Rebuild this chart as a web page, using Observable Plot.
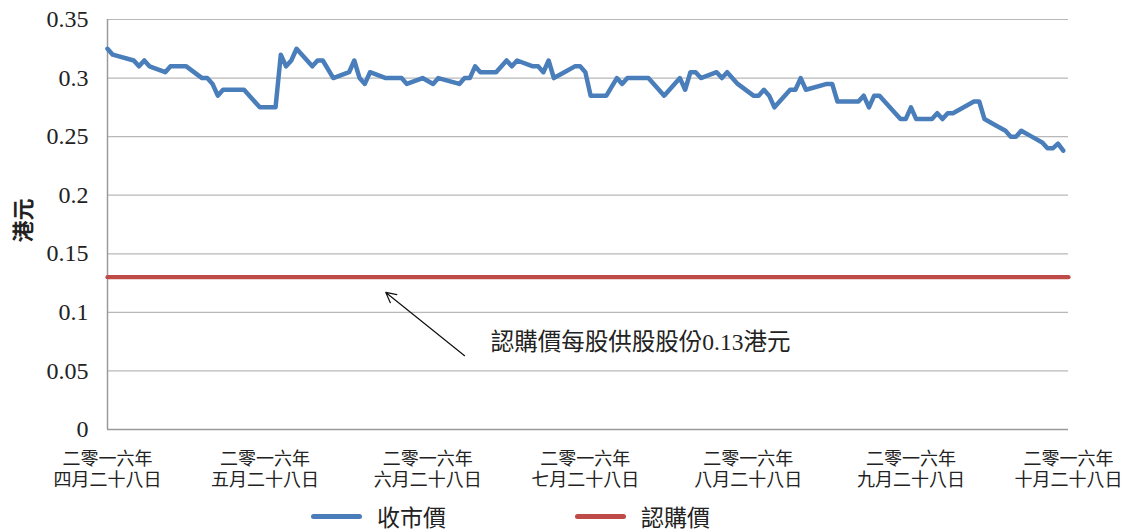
<!DOCTYPE html>
<html>
<head>
<meta charset="utf-8">
<script src="https://cdn.jsdelivr.net/npm/d3@7"></script>
<script src="https://cdn.jsdelivr.net/npm/@observablehq/plot@0.6"></script>
<style>
  html, body { margin: 0; padding: 0; background: #fff; }
  #chart { width: 1126px; }
  #legend { position: relative; width: 1126px; height: 32px; font-family: 'Liberation Serif', 'Noto Sans CJK TC', serif; font-size: 23px; color: #222; }
  .item { position: absolute; top: 0; height: 32px; display: flex; align-items: center; }
  .swatch { width: 51px; height: 5px; border-radius: 3px; margin-right: 15px; }
</style>
</head>
<body>
<div id="chart"></div>
<div id="legend"></div>
<script>
// ---- data ----
const dates = [
  "2016-04-28","2016-04-29","2016-05-03","2016-05-04","2016-05-05","2016-05-06","2016-05-09","2016-05-10","2016-05-13","2016-05-16",
  "2016-05-17","2016-05-18","2016-05-19","2016-05-20","2016-05-24","2016-05-27","2016-05-30","2016-05-31","2016-06-01","2016-06-02",
  "2016-06-03","2016-06-06","2016-06-07","2016-06-08","2016-06-10","2016-06-13","2016-06-14","2016-06-15","2016-06-16","2016-06-17",
  "2016-06-20","2016-06-23","2016-06-24","2016-06-27","2016-06-29","2016-06-30","2016-07-04","2016-07-05","2016-07-06","2016-07-07",
  "2016-07-08","2016-07-11","2016-07-13","2016-07-14","2016-07-15","2016-07-18","2016-07-19","2016-07-20","2016-07-21","2016-07-22",
  "2016-07-24","2016-07-26","2016-07-27","2016-07-28","2016-07-29","2016-08-01","2016-08-03","2016-08-04","2016-08-05","2016-08-09",
  "2016-08-11","2016-08-12","2016-08-15","2016-08-16","2016-08-17","2016-08-18","2016-08-19","2016-08-22","2016-08-23","2016-08-24",
  "2016-08-26","2016-08-29","2016-08-30","2016-08-31","2016-09-01","2016-09-02","2016-09-05","2016-09-06","2016-09-07","2016-09-08",
  "2016-09-12","2016-09-13","2016-09-14","2016-09-18","2016-09-19","2016-09-20","2016-09-21","2016-09-22","2016-09-26","2016-09-27",
  "2016-09-28","2016-09-29","2016-10-02","2016-10-03","2016-10-04","2016-10-05","2016-10-06","2016-10-10","2016-10-11","2016-10-12",
  "2016-10-14","2016-10-16","2016-10-17","2016-10-18","2016-10-19","2016-10-21","2016-10-23","2016-10-24","2016-10-25","2016-10-26",
  "2016-10-27"
];
const closePrices = [
  0.325,0.32,0.315,0.31,0.315,0.31,0.305,0.31,0.31,0.30,
  0.30,0.295,0.285,0.29,0.29,0.275,0.275,0.32,0.31,0.315,
  0.325,0.31,0.315,0.315,0.30,0.305,0.315,0.30,0.295,0.305,
  0.30,0.30,0.295,0.30,0.295,0.30,0.295,0.30,0.30,0.31,
  0.305,0.305,0.315,0.31,0.315,0.31,0.31,0.305,0.315,0.30,
  0.305,0.31,0.31,0.305,0.285,0.285,0.30,0.295,0.30,0.30,
  0.29,0.285,0.30,0.29,0.305,0.305,0.30,0.305,0.30,0.305,
  0.295,0.285,0.285,0.29,0.285,0.275,0.29,0.29,0.30,0.29,
  0.295,0.295,0.28,0.28,0.285,0.275,0.285,0.285,0.265,0.265,
  0.275,0.265,0.265,0.27,0.265,0.27,0.27,0.28,0.28,0.265,
  0.26,0.255,0.25,0.25,0.255,0.25,0.245,0.24,0.24,0.244,
  0.238
];
const subscriptionPrice = 0.13;
const xDomain = ["2016-04-28", "2016-10-28"];
const xTickDates = ["2016-04-28","2016-05-28","2016-06-28","2016-07-28","2016-08-28","2016-09-28","2016-10-28"];
const xTickLabels = [
  "二零一六年\n四月二十八日","二零一六年\n五月二十八日","二零一六年\n六月二十八日","二零一六年\n七月二十八日",
  "二零一六年\n八月二十八日","二零一六年\n九月二十八日","二零一六年\n十月二十八日"
];
const yTicks = [0, 0.05, 0.1, 0.15, 0.2, 0.25, 0.3, 0.35];
const yLabel = "港元";
const seriesNames = ["收市價", "認購價"];
const seriesColors = ["#4a7ebb", "#be4b48"];
const noteText = "認購價每股供股股份0.13港元";
const noteAnchor = { date: "2016-07-10", value: 0.074 };
const arrowTail = { date: "2016-07-05", value: 0.063 };
const arrowHead = { date: "2016-06-20", value: 0.117 };

// ---- build ----
const parse = d3.utcParse("%Y-%m-%d");
const closeData = dates.map((d, i) => ({ date: parse(d), value: closePrices[i] }));
const tickDates = xTickDates.map(parse);
const domain = xDomain.map(parse);
const refData = domain.map(d => ({ date: d, value: subscriptionPrice }));
const serifCJK = "'Liberation Serif', 'Noto Sans CJK TC', serif";

const W = 1126, H = 500;
const chart = Plot.plot({
  width: W,
  height: H,
  marginLeft: 107,
  marginRight: 58,
  marginTop: 19,
  marginBottom: H - 429,
  style: { fontFamily: serifCJK, color: "#222", background: "#fff", overflow: "visible" },
  x: { type: "utc", domain },
  y: { domain: [0, 0.35] },
  marks: [
    Plot.gridY(yTicks, { stroke: "#b8b8b8", strokeOpacity: 1, strokeWidth: 1.2 }),
    Plot.ruleY([0], { stroke: "#9a9a9a", strokeWidth: 1.5 }),
    Plot.ruleX([domain[0]], { stroke: "#9a9a9a", strokeWidth: 1.5 }),
    Plot.axisY({
      ticks: yTicks, tickSize: 0, tickPadding: 19, label: null,
      tickFormat: d => String(d), fontSize: 24, fontFamily: "'Liberation Serif', serif"
    }),
    Plot.axisX({
      ticks: tickDates, tickSize: 0, tickPadding: 21, label: null,
      tickFormat: d => xTickLabels[tickDates.findIndex(t => +t === +d)],
      fontSize: 18, lineHeight: 1.15, fontFamily: serifCJK
    }),
    Plot.text([yLabel], {
      frameAnchor: "left", dx: -84, dy: 18, rotate: -90, fontSize: 22, fontWeight: "bold",
      fontFamily: "'Noto Sans CJK TC', sans-serif", fill: "#222"
    }),
    Plot.line(refData, { x: "date", y: "value", stroke: seriesColors[1], strokeWidth: 4.2 }),
    Plot.line(closeData, { x: "date", y: "value", stroke: seriesColors[0], strokeWidth: 4.5, strokeLinejoin: "round", strokeLinecap: "round" }),
    Plot.arrow([{ x1: parse(arrowTail.date), y1: arrowTail.value, x2: parse(arrowHead.date), y2: arrowHead.value }], {
      x1: "x1", y1: "y1", x2: "x2", y2: "y2", stroke: "#111", strokeWidth: 1.2, headLength: 14, headAngle: 55
    }),
    Plot.text([{ date: parse(noteAnchor.date), value: noteAnchor.value, label: noteText }], {
      x: "date", y: "value", text: "label", textAnchor: "start", fontSize: 23.5, fontFamily: serifCJK, fill: "#222"
    })
  ]
});
document.getElementById("chart").appendChild(chart);

// legend
const legend = document.getElementById("legend");
const lefts = [311, 575];
seriesNames.forEach((name, i) => {
  const item = document.createElement("div");
  item.className = "item";
  item.style.left = lefts[i] + "px";
  const sw = document.createElement("div");
  sw.className = "swatch";
  sw.style.background = seriesColors[i];
  const label = document.createElement("span");
  label.textContent = name;
  item.appendChild(sw);
  item.appendChild(label);
  legend.appendChild(item);
});
</script>
</body>
</html>
